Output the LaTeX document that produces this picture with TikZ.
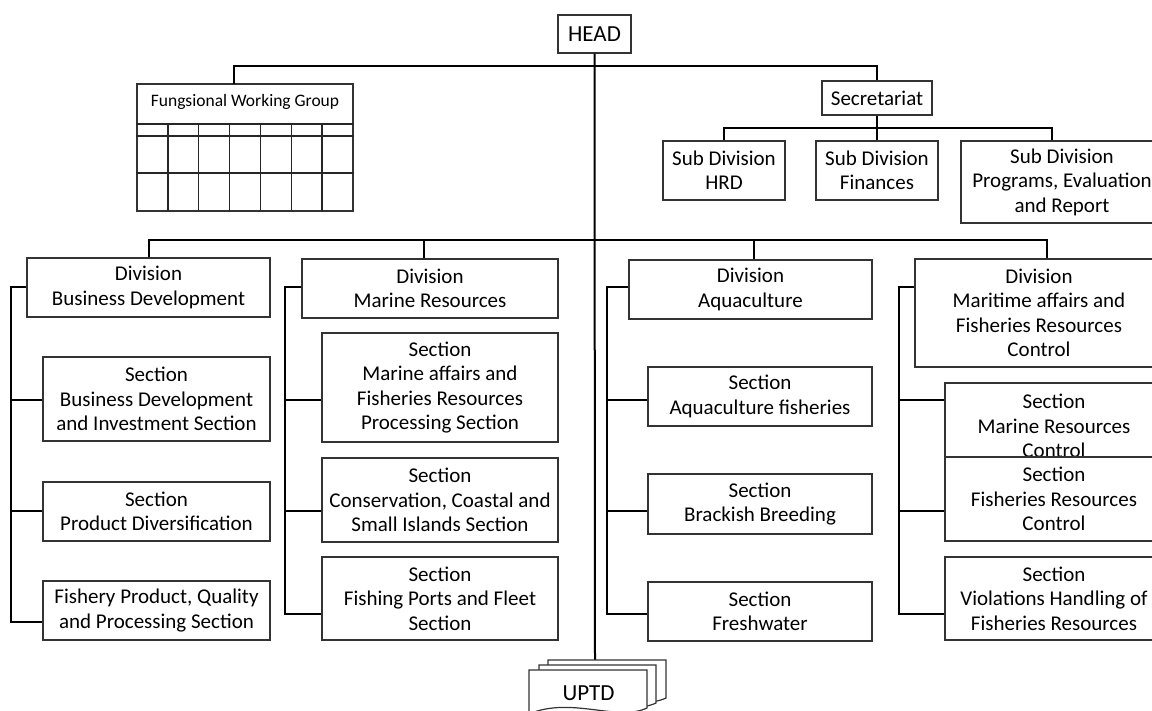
\documentclass[tikz,border=0pt]{standalone}
\usepackage{fontspec}
\setmainfont{Carlito}
\usetikzlibrary{calc}
\begin{document}
\begin{tikzpicture}[x=1pt,y=-1pt,
  box/.style={draw=black!80, line width=1.2pt, fill=white, align=center,
    inner sep=2pt, font=\fontsize{21}{24.4}\selectfont},
  sz/.style 2 args={minimum width=#1pt, minimum height=#2pt},
  conn/.style={draw=black, line width=2pt},
  gridline/.style={draw=black!85, line width=1.3pt},
  sheet/.style={draw=black!80, line width=1.2pt, fill=white}]

% canvas
\fill[white] (0,0) rectangle (1152,710);
\useasboundingbox (0,0) rectangle (1152,710);

% ---------- top level ----------
\node[box, sz={73}{38}, font=\fontsize{23}{26}\selectfont] (head) at (594.5,34) {HEAD};
\coordinate (uptdtop) at (595,660);
\draw[conn] (head.south) -- (uptdtop);

% functional working group table
\node[box, sz={216}{127}, line width=1.4pt] (fwg) at (245,147.5) {};
\node[font=\fontsize{17.5}{20}\selectfont, inner sep=0pt] (fwgtitle) at (245,102) {Fungsional Working Group};
\draw[gridline] (fwg.west |- 0,124) -- (fwg.east |- 0,124);
\draw[gridline] (fwg.west |- 0,136) -- (fwg.east |- 0,136);
\draw[gridline] (fwg.west |- 0,173) -- (fwg.east |- 0,173);
\foreach \i in {1,...,6}
  \draw[gridline] ({137+\i*216/7},124) -- ({137+\i*216/7},211);

% secretariat and its sub divisions
\node[box, sz={110}{34}] (sec) at (877,98) {Secretariat};
\node[box, sz={122}{59}] (hrd) at (724,170.5) {Sub Division\\HRD};
\node[box, sz={122}{59}] (fin) at (877,170.5) {Sub Division\\Finances};
\node[box, sz={202}{82}] (per) at (1062,182) {Sub Division\\Programs, Evaluation\\and Report};

\coordinate (fwgtop) at (234,84);
\draw[conn] (fwgtop) -- ($(fwgtop)+(0,-18)$) -| (sec.north);
\coordinate (secbus) at ($(sec.south)+(0,12)$);
\coordinate (perdrop) at ($(per.north)+(-10,0)$);
\draw[conn] (sec.south) -- (fin.north);
\draw[conn] (hrd.north) |- (secbus) -| (perdrop);

% ---------- divisions ----------
\node[box, sz={243}{59}] (bd) at (148.5,287.5) {Division\\Business Development};
\node[box, sz={227}{84}] (bd1) at (156.5,399) {Section\\Business Development\\and Investment Section};
\node[box, sz={227}{59}] (bd2) at (156.5,511.5) {Section\\Product Diversification};
\node[box, sz={227}{59}] (bd3) at (156.5,610.5) {Fishery Product, Quality\\and Processing Section};

\node[box, sz={256}{59}] (mr) at (430,288.5) {Division\\Marine Resources};
\node[box, sz={236}{109}] (mr1) at (440,387.5) {Section\\Marine affairs and\\Fisheries Resources\\Processing Section};
\node[box, sz={236}{84}] (mr2) at (440,500) {Section\\Conservation, Coastal and\\Small Islands Section};
\node[box, sz={236}{83}] (mr3) at (440,598.5) {Section\\Fishing Ports and Fleet\\Section};

\node[box, sz={243}{59}] (aq) at (750.5,289.5) {Division\\Aquaculture};
\node[box, sz={224}{59}] (aq1) at (760,396.5) {Section\\Aquaculture fisheries};
\node[box, sz={224}{60}] (aq2) at (760,504) {Section\\Brackish Breeding};
\node[box, sz={224}{59}] (aq3) at (760,611.5) {Section\\Freshwater};

\node[box, sz={248}{108}] (mt) at (1039,313) {Division\\Maritime affairs and\\Fisheries Resources\\Control};
\node[box, sz={218}{86}] (mt1) at (1054,426) {Section\\Marine Resources\\Control};
\node[box, sz={218}{84}] (mt2) at (1054,499) {Section\\Fisheries Resources\\Control};
\node[box, sz={218}{83}] (mt3) at (1054,598.5) {Section\\Violations Handling of\\Fisheries Resources};

% division bus
\coordinate (dbus) at (595,240);
\coordinate (mrdrop) at ($(mr.north)+(-6,0)$);
\coordinate (aqdrop) at ($(aq.north)+(3.5,0)$);
\coordinate (mtdrop) at ($(mt.north)+(8,0)$);
\draw[conn] (bd.north) |- (dbus) -| (mtdrop);
\draw[conn] (mrdrop) -- (mrdrop |- dbus);
\draw[conn] (aqdrop) -- (aqdrop |- dbus);

% brackets joining each division to its sections
\foreach \cn/\rx/\by in {bd/11/622, mr/285/614, aq/607/614, mt/899/614} {
  \draw[conn] (\cn.west |- 0,287) -| (\rx,\by) -- (\cn3.west |- 0,\by);
  \draw[conn] (\cn1.west |- 0,400) -- (\rx,400);
  \draw[conn] (\cn2.west |- 0,511) -- (\rx,511);
}

% ---------- UPTD (stacked documents) ----------
\draw[sheet] (548,660) -- (666,660) -- (666,698)
  .. controls (636,712) and (590,686) .. (548,704) -- cycle;
\draw[sheet] (539,665) -- (656,665) -- (656,703)
  .. controls (626,717) and (580,691) .. (539,709) -- cycle;
\draw[sheet] (529,670) -- (647,670) -- (647,708)
  .. controls (617,722) and (571,696) .. (529,714) -- cycle;
\node[font=\fontsize{23}{26}\selectfont, inner sep=0pt] (uptd) at (588.5,693) {UPTD};

\end{tikzpicture}
\end{document}
